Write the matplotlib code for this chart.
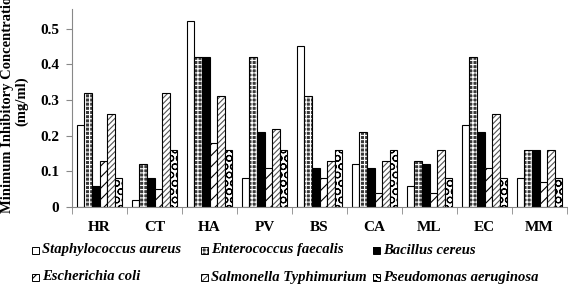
import matplotlib
matplotlib.use("Agg")
import matplotlib.pyplot as plt
import numpy as np
from matplotlib.patches import Rectangle

categories = ["HR", "CT", "HA", "PV", "BS", "CA", "ML", "EC", "MM"]
series_names = ["Staphylococcus aureus", "Enterococcus faecalis", "Bacillus cereus",
                "Escherichia coli", "Salmonella Typhimurium", "Pseudomonas aeruginosa"]
s_aureus = [0.23, 0.02, 0.52, 0.08, 0.45, 0.12, 0.06, 0.23, 0.08]
e_faecalis = [0.32, 0.12, 0.42, 0.42, 0.31, 0.21, 0.13, 0.42, 0.16]
b_cereus = [0.06, 0.08, 0.42, 0.21, 0.11, 0.11, 0.12, 0.21, 0.16]
e_coli = [0.13, 0.05, 0.18, 0.11, 0.08, 0.04, 0.04, 0.11, 0.07]
s_typhi = [0.26, 0.32, 0.31, 0.22, 0.13, 0.13, 0.16, 0.26, 0.16]
p_aerug = [0.08, 0.16, 0.16, 0.16, 0.16, 0.16, 0.08, 0.08, 0.08]
yticks = [0, 0.1, 0.2, 0.3, 0.4, 0.5]
ytick_labels = ["0", "0.1", "0.2", "0.3", "0.4", "0.5"]

series = [s_aureus, e_faecalis, b_cereus, e_coli, s_typhi, p_aerug]
# (facecolor, hatchcolor, hatch)
styles = [("white", "white", None),
          ("#3a3a3a", "white", "++++"),
          ("black", "black", None),
          ("white", "black", "///"),
          ("white", "#555555", "//////"),
          ("white", "black", "OO")]

plt.rcParams['font.family'] = ['Liberation Serif', 'DejaVu Serif']
plt.rcParams['hatch.linewidth'] = 0.8

W, H = 568, 285
fig = plt.figure(figsize=(W / 100, H / 100), dpi=100)
ax = fig.add_axes([72 / W, 78 / H, 495 / W, 198 / H])

x = np.arange(len(categories))
bw = 0.137
for i, (vals, (fc, hc, h)) in enumerate(zip(series, styles)):
    pos = x + (i - 2.5) * bw
    ax.bar(pos, vals, bw, color=fc, edgecolor=hc, hatch=h, linewidth=0)
    ax.bar(pos, vals, bw, fill=False, edgecolor="black", linewidth=0.8)

ax.set_xlim(-0.5, len(categories) - 0.5)
ax.set_ylim(0, 0.555)
ax.set_yticks(yticks)
ax.set_yticklabels(ytick_labels, fontsize=11, fontweight="bold")
ax.tick_params(axis="y", length=4, color="#888888", direction="out", pad=5)
ax.set_xticks(x)
ax.set_xticklabels(categories, fontsize=11, fontweight="bold")
ax.tick_params(axis="x", which="major", length=0, pad=10)
ax.set_xticks(np.arange(len(categories) + 1) - 0.5, minor=True)
ax.tick_params(axis="x", which="minor", length=5, color="#888888", direction="out")
for s in ["top", "right"]:
    ax.spines[s].set_visible(False)
for s in ["left", "bottom"]:
    ax.spines[s].set_color("#888888")
    ax.spines[s].set_linewidth(0.8)

ax.set_ylabel("Minimum Inhibitory Concentration\n(mg/ml)", fontsize=10.5,
              fontweight="bold", linespacing=1.1)
ax.yaxis.set_label_coords(-0.088, 0.535)

# legend laid out like the reference (row-major, 3 columns, 2 rows)
col_x = [32, 201, 373]
row_y = [250, 277]
msz = 7
for k, (name, (fc, hc, h)) in enumerate(zip(series_names, styles)):
    r, c = divmod(k, 3)
    mx, my = col_x[c], row_y[r]
    fig.add_artist(Rectangle((mx / W, 1 - (my + msz / 2) / H), msz / W, msz / H,
                             transform=fig.transFigure, facecolor=fc, edgecolor=hc,
                             hatch=h, linewidth=0))
    fig.add_artist(Rectangle((mx / W, 1 - (my + msz / 2) / H), msz / W, msz / H,
                             transform=fig.transFigure, fill=False, edgecolor="black",
                             linewidth=0.7))
    fig.text((mx + msz + 3) / W, 1 - my / H, name, fontsize=10.5, fontweight="bold",
             fontstyle="italic", ha="left", va="center")

fig.savefig("out.png", dpi=100)
